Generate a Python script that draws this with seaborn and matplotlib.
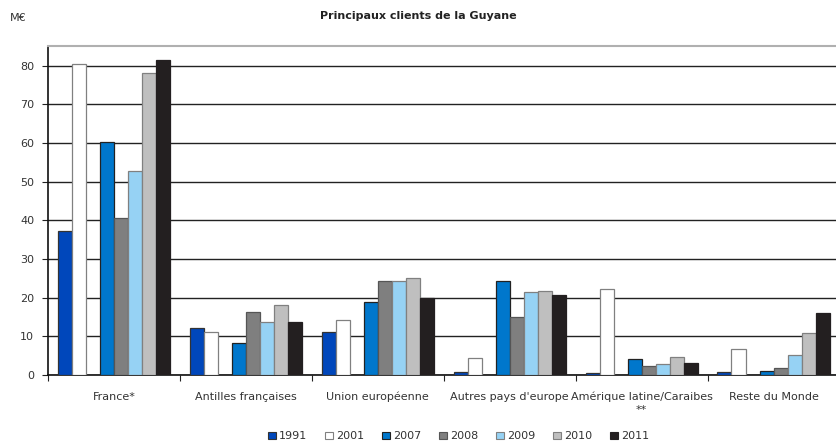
import pandas as pd
import numpy as np
import matplotlib
matplotlib.use("Agg")
import matplotlib.pyplot as plt
from matplotlib.patches import Patch
import seaborn as sns

# Data (M€)
categories = ["France*", "Antilles françaises", "Union européenne",
              "Autres pays d'europe", "Amérique latine/Caraibes\n**", "Reste du Monde"]
years = ["1991", "2001", "2007", "2008", "2009", "2010", "2011"]
v1991 = [37.2, 12.2, 11.1, 0.7, 0.5, 0.8]
v2001 = [80.3, 11.1, 14.1, 4.3, 22.3, 6.6]
v2007 = [60.3, 8.2, 18.9, 24.2, 4.2, 1.0]
v2008 = [40.6, 16.2, 24.2, 15.1, 2.4, 1.8]
v2009 = [52.7, 13.8, 24.2, 21.5, 2.9, 5.1]
v2010 = [78.2, 18.1, 25.0, 21.8, 4.6, 10.9]
v2011 = [81.4, 13.6, 19.9, 20.7, 3.2, 16.0]
yticks = [0, 10, 20, 30, 40, 50, 60, 70, 80]

colors = {"1991": "#0047bb", "2001": "#ffffff", "gap": "#ffffff",
          "2007": "#0077cc", "2008": "#7f7f7f", "2009": "#96d2f4",
          "2010": "#bfbfbf", "2011": "#231f20"}
edges = {"1991": "#333333", "2001": "#808080", "gap": "none",
         "2007": "#222222", "2008": "#555555", "2009": "#808080",
         "2010": "#808080", "2011": "#231f20"}

# Build long table; an empty slot sits between 2001 and 2007 in the original
series = {"1991": v1991, "2001": v2001, "gap": [np.nan] * 6, "2007": v2007,
          "2008": v2008, "2009": v2009, "2010": v2010, "2011": v2011}
rows = []
for yr, vals in series.items():
    for c, v in zip(categories, vals):
        rows.append({"zone": c, "year": yr, "value": v})
df = pd.DataFrame(rows)
hue_order = list(series.keys())

sns.set_style("white")
plt.rcParams["font.family"] = ["DejaVu Sans"]

fig = plt.figure(figsize=(8.37, 4.43), dpi=100)
ax = fig.add_axes([0.0573, 0.1535, 0.9457, 0.742])

sns.barplot(data=df, x="zone", y="value", hue="year", hue_order=hue_order,
            order=categories, palette=colors, saturation=1, width=0.85, ax=ax,
            legend=False, errorbar=None, zorder=3)

# edge colours per series
for container, yr in zip(ax.containers, hue_order):
    for bar in container:
        if yr == "gap":
            bar.set_visible(False)
        else:
            bar.set_edgecolor(edges[yr])
            bar.set_linewidth(0.9)

ax.set_ylim(0, 85)
ax.set_xlim(-0.5, 5.5)
ax.set_yticks(yticks)
ax.set_yticklabels([str(t) for t in yticks], fontsize=8, color="#333333")
ax.yaxis.grid(True, color="#222222", linewidth=1.0, zorder=0)
ax.set_axisbelow(True)

# x ticks at group boundaries, labels centered
ax.set_xticks(np.arange(-0.5, 6.0, 1.0))
ax.set_xticklabels([])
ax.set_xticks(np.arange(6), minor=True)
ax.set_xticklabels(categories, minor=True, fontsize=8, color="#333333",
                   va="top", linespacing=1.3)
ax.tick_params(axis="x", which="major", direction="out", length=4,
               color="#222222", bottom=True)
ax.tick_params(axis="x", which="minor", length=0, pad=12)
ax.tick_params(axis="y", direction="out", length=4, color="#222222", left=True, pad=6)
ax.set_xlabel("")
ax.set_ylabel("")

for s in ["left", "bottom"]:
    ax.spines[s].set_color("#111111")
    ax.spines[s].set_linewidth(1.2)
ax.spines["top"].set_color("#b0b0b0")
ax.spines["top"].set_linewidth(1.5)
ax.spines["right"].set_visible(False)

fig.text(0.5, 0.965, "Principaux clients de la Guyane", ha="center", va="center",
         fontsize=8, fontweight="bold", color="#222222")
fig.text(0.012, 0.96, "M€", ha="left", va="center", fontsize=8, color="#333333")

handles = [Patch(facecolor=colors[y], edgecolor=edges[y], linewidth=0.8, label=y)
           for y in years]
fig.legend(handles=handles, loc="center", bbox_to_anchor=(0.548, 0.015),
           ncol=7, frameon=False, fontsize=8, handlelength=0.7, handleheight=0.7,
           handletextpad=0.3, columnspacing=1.6, labelcolor="#333333")

fig.savefig("out.png", dpi=100)
